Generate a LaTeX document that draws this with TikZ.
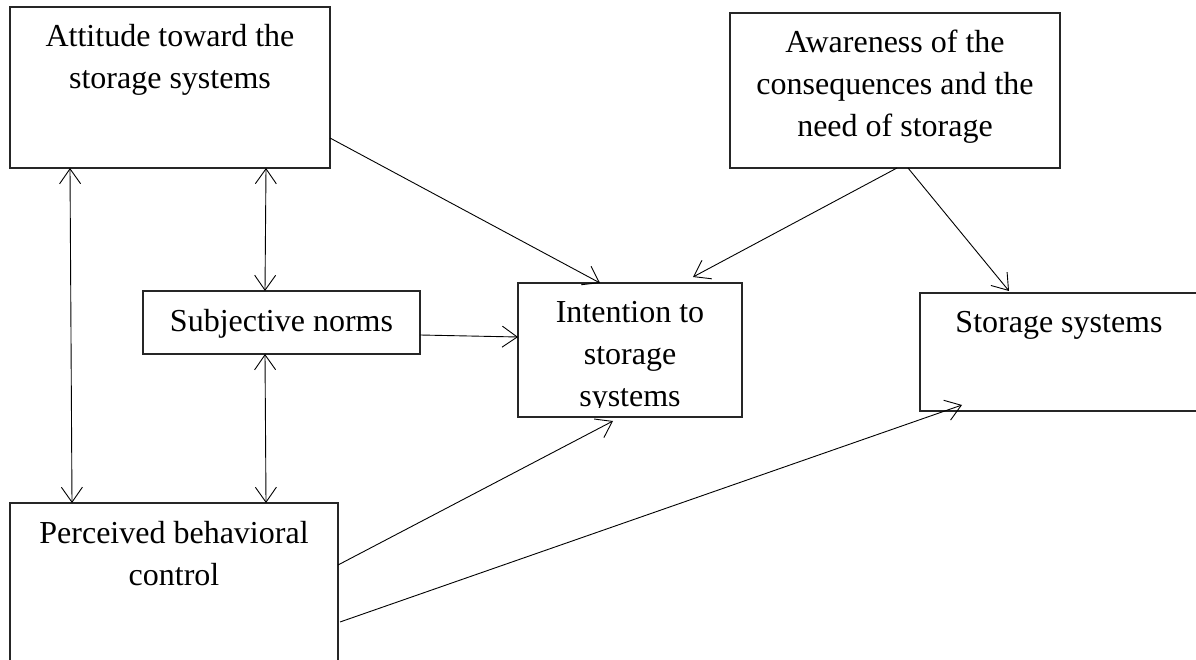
\documentclass[tikz,border=0pt]{standalone}
\usepackage{fontspec}
\setmainfont{Liberation Serif}
\usetikzlibrary{arrows.meta,calc}
\begin{document}
\begin{tikzpicture}[x=1pt,y=1pt,
  box/.style={draw=black!85, line width=1.1pt, inner sep=0pt, outer sep=0pt, rectangle},
  lbl/.style={font=\fontsize{32}{42}\selectfont, align=center, inner sep=0pt, anchor=base},
  tip/.tip={Straight Barb[length=15pt,width=21pt]},
  conn/.style={line width=0.9pt, -tip},
  bi/.style={line width=0.9pt, tip-tip}]
\useasboundingbox (0,0) rectangle (1196,659);
% boxes
\node[box, minimum width=320pt, minimum height=161pt] (att) at (170,571.5) {};
\node[box, minimum width=330pt, minimum height=155pt] (awa) at (895,568.5) {};
\node[box, minimum width=277pt, minimum height=63pt] (sub) at (281.5,336.5) {};
\node[box, minimum width=224pt, minimum height=134pt] (int) at (630,309) {};
\node[box, minimum width=278pt, minimum height=118pt] (sto) at (1059,307) {};
\node[box, minimum width=328pt, minimum height=167pt] (per) at (174,72.5) {};
% texts (base anchor = baseline of last line)
\node[lbl] (attt) at (170,570) {Attitude toward the\\storage systems};
\node[lbl] (awat) at (895,522) {Awareness of the\\consequences and the\\need of storage};
\node[lbl] (subt) at (281.5,327) {Subjective norms};
\begin{scope}
  \clip (518,251.5) rectangle (742,376);
  \node[lbl] (intt) at (630,252) {Intention to\\storage\\systems};
\end{scope}
\node[lbl] (stot) at (1059,326) {Storage systems};
\node[lbl] (pert) at (174,74) {Perceived behavioral\\control};
% connectors
\draw[conn] ($(att.south east)+(0,30)$) -- ($(int.north)+(-30,0)$);
\draw[conn] ($(awa.south)+(2,0)$) -- ($(int.north)+(63,6)$);
\draw[conn] ($(awa.south)+(13,0)$) -- ($(sto.north)+(-50,2)$);
\draw[conn] ($(sub.east)+(0,-12.5)$) -- ($(int.west)+(0,13)$);
\draw[conn] ($(per.east)+(0,21.5)$) -- ($(int.south)+(-17,-4)$);
\draw[conn] ($(per.east)+(2,-35.5)$) -- ($(sto.south west)+(42,6)$);
\draw[bi] ($(att.south)+(-100,0)$) -- ($(per.north)+(-102,0)$);
\draw[bi] ($(att.south)+(96,0)$) -- ($(sub.north)+(-16.5,0)$);
\draw[bi] ($(sub.south)+(-16.5,0)$) -- ($(per.north)+(92,0)$);
\end{tikzpicture}
\end{document}
